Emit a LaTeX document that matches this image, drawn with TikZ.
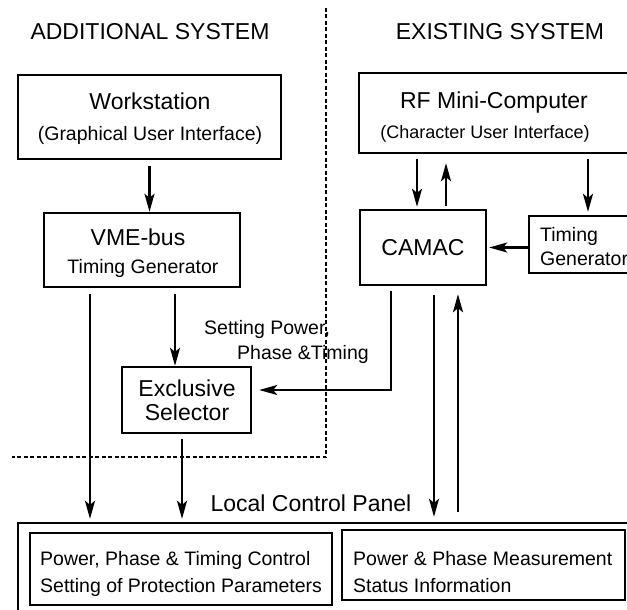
\documentclass[tikz,border=0pt]{standalone}
\usepackage{fontspec}
\setmainfont{Liberation Sans}
\usetikzlibrary{arrows.meta}

\newcommand{\grossf}{\fontsize{23}{27}\selectfont}
\newcommand{\kleinf}{\fontsize{19.5}{23}\selectfont}
\newcommand{\winzf}{\fontsize{18}{21}\selectfont}

\tikzset{
	kasten/.style={draw=black, line width=2.4pt, inner sep=0pt},
	innen/.style={draw=black, line width=1.6pt, inner sep=0pt},
	txt/.style={inner sep=0pt, anchor=base},
	txtl/.style={inner sep=0pt, anchor=base west},
	pfeil/.style={-{Stealth[length=18pt,width=10pt,inset=4pt]}, line width=2.2pt},
	trenn/.style={line width=2.8pt, dash pattern=on 4pt off 2.5pt}
}

\begin{document}
\begin{tikzpicture}[x=1pt, y=-1pt]
	\useasboundingbox (0,0) rectangle (627,610);
	\clip (0,0) rectangle (627,610);

	% Ueberschriften
	\node[txt] (addsys) at (150,40) {\grossf ADDITIONAL SYSTEM};
	\node[txt] (exsys) at (500,40) {\grossf EXISTING SYSTEM};

	% Trennlinie
	\draw[trenn] (326,8) -- (326,457) -- (12,457);

	% Kaesten links
	\node[kasten, minimum width=263, minimum height=84] (ws) at (149.5,117) {};
	\node[txt] (ws1) at (150,110) {\grossf Workstation};
	\node[txt] (ws2) at (150,140) {\kleinf (Graphical User Interface)};
	\node[kasten, minimum width=196, minimum height=74] (vme) at (142,250) {};
	\node[txt] (vme1) at (138,245) {\grossf VME-bus};
	\node[txt] (vme2) at (143,273) {\kleinf Timing Generator};
	\node[kasten, minimum width=129, minimum height=66] (excl) at (186.5,400) {};
	\node[txt] (excl1) at (187,396) {\grossf Exclusive};
	\node[txt] (excl2) at (187,420) {\grossf Selector};

	% Kaesten rechts
	\node[kasten, minimum width=270, minimum height=80] (rf) at (494,113) {};
	\node[txt] (rf1) at (494,108) {\grossf RF Mini-Computer};
	\node[txt] (rf2) at (485,139) {\winzf (Character User Interface)};
	\node[kasten, minimum width=126, minimum height=75] (camac) at (423,247.5) {};
	\node[txt] (camac1) at (423,255) {\grossf CAMAC};
	\node[kasten, minimum width=111, minimum height=57] (tg) at (584.5,244.5) {};
	\node[txtl] (tg1) at (540,241) {\kleinf Timing};
	\node[txtl] (tg2) at (540,265) {\kleinf Generator};

	% Bedienfeld
	\node[kasten, minimum width=622, minimum height=130] (panel) at (329,588) {};
	\node[txt] (panel1) at (311,511) {\grossf Local Control Panel};
	\node[innen, minimum width=302, minimum height=72] (ctrl) at (181,569) {};
	\node[txtl] (ctrl1) at (40,565) {\kleinf Power, Phase \& Timing Control};
	\node[txtl] (ctrl2) at (40,592) {\kleinf Setting of Protection Parameters};
	\node[innen, minimum width=283, minimum height=70] (meas) at (483.5,565) {};
	\node[txtl] (meas1) at (353,565) {\kleinf Power \& Phase Measurement};
	\node[txtl] (meas2) at (353,592) {\kleinf Status Information};

	% Beschriftung
	\node[txtl] (set1) at (204,334) {\kleinf Setting Power,};
	\node[txtl] (set2) at (237,359) {\kleinf Phase \&Timing};

	% Anschlusspunkte
	\coordinate (vL) at ([xshift=-52pt]vme.south);
	\coordinate (vR) at ([xshift=33pt]vme.south);
	\coordinate (eS) at ([xshift=-4.5pt]excl.south);
	\coordinate (eE) at ([yshift=10pt]excl.east);
	\coordinate (cL) at ([xshift=-32pt]camac.south);
	\coordinate (cM) at ([xshift=11pt]camac.south);
	\coordinate (cR) at ([xshift=35pt]camac.south);
	\coordinate (cA) at ([xshift=-6pt]camac.north);
	\coordinate (cB) at ([xshift=23pt]camac.north);
	\coordinate (tN) at ([xshift=3.5pt]tg.north);

	% Pfeile
	\draw[pfeil, shorten <=6pt] (ws.south) -- (ws.south |- vme.north);
	\draw[pfeil, shorten <=6pt] (vR) -- (vR |- excl.north);
	\draw[pfeil, shorten <=6pt, shorten >=3pt] (vL) -- (vL |- panel.north);
	\draw[pfeil, shorten <=5pt, shorten >=3pt] (eS) -- (eS |- panel.north);
	\draw[pfeil, shorten <=5pt, shorten >=2pt] (cA |- rf.south) -- (cA);
	\draw[pfeil, shorten <=3pt, shorten >=9pt] (cB) -- (cB |- rf.south);
	\draw[pfeil, shorten <=5pt, shorten >=3pt] (tN |- rf.south) -- (tN);
	\draw[pfeil, shorten >=2pt] (tg.west |- camac.east) -- (camac.east);
	\draw[pfeil, shorten <=5pt, shorten >=7pt] (cL) |- (eE);
	\draw[pfeil, shorten <=9pt, shorten >=5pt] (cM) -- (cM |- panel.north);
	\draw[pfeil, shorten <=10pt, shorten >=8pt] (cR |- panel.north) -- (cR);
\end{tikzpicture}
\end{document}
